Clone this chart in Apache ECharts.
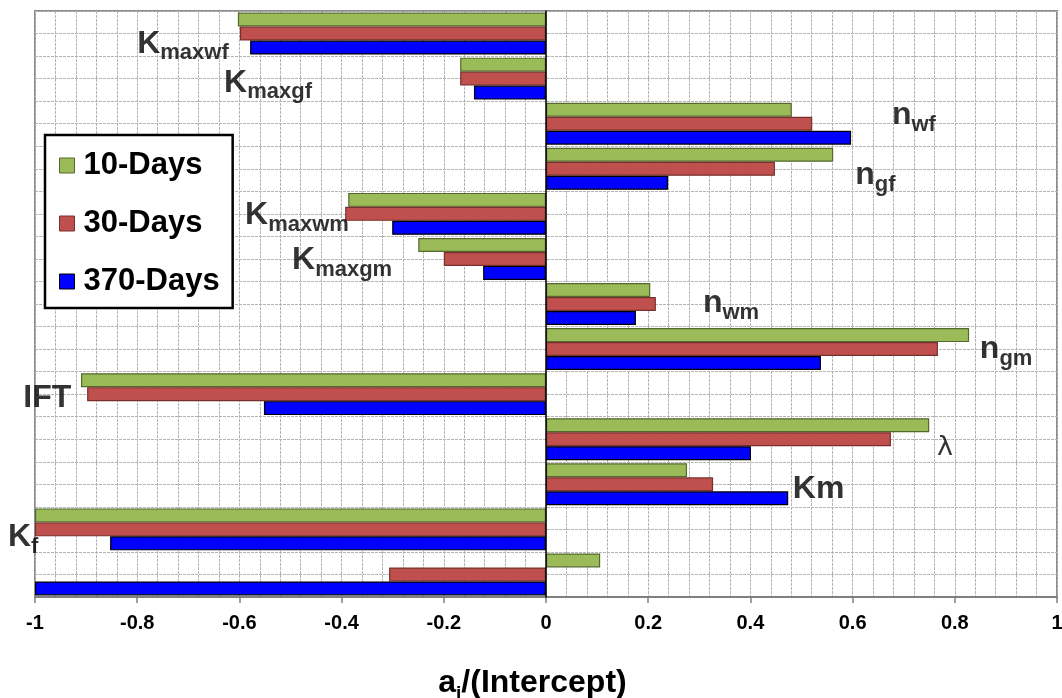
<!DOCTYPE html>
<html>
<head>
<meta charset="utf-8">
<script src="https://cdn.jsdelivr.net/npm/echarts@6/dist/echarts.min.js"></script>
<style>html,body{margin:0;padding:0;background:#fff;}#c{width:1062px;height:698px;}</style>
</head>
<body>
<div id="c"></div>
<script>
// Categories, top to bottom
var categories = ['Kmaxwf','Kmaxgf','nwf','ngf','Kmaxwm','Kmaxgm','nwm','ngm','IFT','lambda','Km','Kf','other'];
var seriesNames = ['10-Days','30-Days','370-Days'];
var days10  = [-0.603,-0.168, 0.481, 0.562,-0.387,-0.250, 0.204, 0.828,-0.910, 0.750, 0.276,-1.000, 0.106];
var days30  = [-0.599,-0.168, 0.521, 0.448,-0.393,-0.200, 0.215, 0.767,-0.898, 0.675, 0.327,-1.000,-0.307];
var days370 = [-0.579,-0.141, 0.597, 0.239,-0.301,-0.123, 0.176, 0.538,-0.552, 0.401, 0.474,-0.853,-1.000];
var xTicks = [-1,-0.8,-0.6,-0.4,-0.2,0,0.2,0.4,0.6,0.8,1];

// Annotation labels: main text, subscript, anchor x (axis value, left edge), anchor y (half-category units from top)
var labelMain = ['K','K','n','n','K','K','n','n','IFT','\u03bb','Km','K'];
var labelSub  = ['maxwf','maxgf','wf','gf','maxwm','maxgm','wm','gm','','','','f'];
var labelX    = [-0.800,-0.630, 0.677, 0.605,-0.589,-0.497, 0.307, 0.849,-1.023, 0.765, 0.483,-1.053];
var labelY    = [ 1.550, 3.280, 4.740, 7.400, 9.180,11.170,13.080,15.120,17.160,19.400,21.200,23.460];

var colors = ['#9BBB59','#C0504D','#0000FF'];
var borders = ['#55692f','#77302d','#000000'];
var values = [days10, days30, days370];
var FONT = 'Liberation Sans, Arial, sans-serif';

var chart = echarts.init(document.getElementById('c'));

var barSeries = seriesNames.map(function (n, i) {
  return {
    name: n, type: 'bar', yAxisIndex: 0,
    data: values[i],
    barGap: '0%', barCategoryGap: '7%',
    itemStyle: { color: colors[i], borderColor: borders[i], borderWidth: 1.2 },
    emphasis: { disabled: true },
    z: 3
  };
});

var labelData = labelMain.map(function (m, i) {
  var f;
  if (labelSub[i]) f = '{m|' + m + '}{s|' + labelSub[i] + '}';
  else if (m === '\u03bb') f = '{l|' + m + '}';
  else f = '{p|' + m + '}';
  return { value: [labelX[i], labelY[i]], label: { formatter: f } };
});

var option = {
  animation: false,
  backgroundColor: '#fff',
  grid: { left: 35, right: 5, top: 11, bottom: 101, show: true, borderColor: '#8c8c8c', borderWidth: 2, backgroundColor: 'transparent', containLabel: false, outerBoundsMode: 'none' },
  legend: {
    data: seriesNames,
    orient: 'vertical',
    left: 45, top: 135,
    backgroundColor: '#fff',
    borderColor: '#000', borderWidth: 2.5,
    padding: [15, 13, 11, 14],
    itemGap: 27,
    itemWidth: 15, itemHeight: 15,
    icon: 'rect',
    selectedMode: false,
    itemStyle: { borderWidth: 1 },
    textStyle: { fontFamily: FONT, fontWeight: 'bold', fontSize: 31, color: '#000', padding: [0, 0, 0, 4] },
    z: 10
  },
  xAxis: {
    type: 'value', min: -1, max: 1, interval: 0.2,
    name: '{a|a}{i|i}{a|/(Intercept)}',
    nameLocation: 'middle', nameGap: 70,
    nameTextStyle: {
      padding: [0, 27, 0, 0],
      rich: {
        a: { fontFamily: FONT, fontWeight: 'bold', fontSize: 32, color: '#000', lineHeight: 32, verticalAlign: 'top' },
        i: { fontFamily: FONT, fontWeight: 'bold', fontSize: 19, color: '#000', lineHeight: 36, verticalAlign: 'bottom' }
      }
    },
    axisLine: { show: true, onZero: false, lineStyle: { color: '#808080', width: 2 } },
    axisTick: { show: true, length: 6, lineStyle: { color: '#808080', width: 1.5 } },
    axisLabel: {
      fontFamily: FONT, fontWeight: 'bold', fontSize: 20, color: '#000', margin: 16,
      formatter: function (v) { var r = Math.round(v * 10) / 10; return String(r); }
    },
    splitLine: { show: true, lineStyle: { color: '#b4b4b4', type: [3, 1], width: 1 } },
    minorTick: { show: false, splitNumber: 5 },
    minorSplitLine: { show: true, lineStyle: { color: '#b4b4b4', type: [3, 1], width: 1 } }
  },
  yAxis: [
    {
      type: 'category', data: categories, inverse: true,
      axisLine: { show: true, onZero: true, lineStyle: { color: '#000', width: 1.5 } },
      axisTick: { show: false }, axisLabel: { show: false }, splitLine: { show: false },
      z: 4
    },
    {
      type: 'value', min: 0, max: 26, interval: 1, inverse: true,
      axisLine: { show: false }, axisTick: { show: false }, axisLabel: { show: false },
      splitLine: { show: true, lineStyle: { color: '#b4b4b4', type: [3, 1], width: 1 } }
    }
  ],
  series: barSeries.concat([{
    type: 'scatter', xAxisIndex: 0, yAxisIndex: 1, symbolSize: 0, clip: false, silent: true,
    data: labelData,
    label: {
      show: true, position: 'inside', align: 'left', verticalAlign: 'middle',
      color: '#000', textBorderWidth: 0,
      rich: {
        m: { fontFamily: FONT, fontWeight: 'bold', fontSize: 32, color: '#000', lineHeight: 32, verticalAlign: 'top' },
        s: { fontFamily: FONT, fontWeight: 'bold', fontSize: 22, color: '#000', lineHeight: 36.5, verticalAlign: 'bottom' },
        p: { fontFamily: FONT, fontWeight: 'bold', fontSize: 32, color: '#000', lineHeight: 32 },
        l: { fontFamily: 'DejaVu Sans, sans-serif', fontWeight: 'normal', fontSize: 27, color: '#000', lineHeight: 30 }
      }
    },
    z: 8
  }])
};
chart.setOption(option);
</script>
</body>
</html>
